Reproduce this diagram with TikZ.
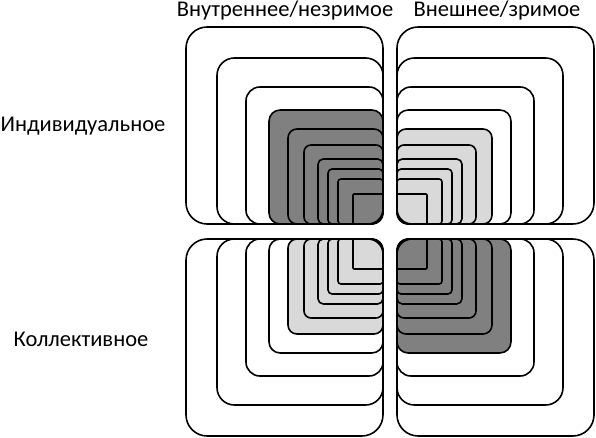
\documentclass[tikz,border=0pt]{standalone}
\usepackage{fontspec}
\setmainfont{Carlito}

\definecolor{dkg}{gray}{0.5}
\definecolor{ltg}{gray}{0.85}

\tikzset{
  sq/.style={draw, line width=1.6pt},
  lbl/.style={font=\fontsize{22.5}{27}\selectfont, inner sep=0pt, anchor=base},
  % square with its inner corner at the origin, opening to the upper left
  pics/qbox/.style n args={2}{code={
    \pgfmathsetmacro\farr{max(0.5,0.12*#1-2.5)}
    \pgfmathsetmacro\innr{15-4*(#1-30)/167}
    \draw[sq, fill=#2] (0,\innr) -- (0,#1-\farr)
      arc[start angle=0, end angle=90, radius=\farr] -- (-#1+\farr,#1)
      arc[start angle=90, end angle=180, radius=\farr] -- (-#1,\farr)
      arc[start angle=180, end angle=270, radius=\farr] -- (-\innr,0)
      arc[start angle=270, end angle=360, radius=\innr] -- cycle;
  }}
}

\begin{document}
\begin{tikzpicture}[x=1pt, y=1pt]
  \useasboundingbox (0,0) rectangle (596,438);

  % inner corners of the four quadrants
  \coordinate (ctl) at (383,214);
  \coordinate (ctr) at (397,214);
  \coordinate (cbl) at (383,199);
  \coordinate (cbr) at (397,199);

  \foreach \s/\fa/\fb in {197/white/white, 166/white/white,
      137/white/white, 114/dkg/white, 95/dkg/ltg, 79/dkg/ltg, 65/dkg/ltg,
      55/dkg/ltg, 45/dkg/ltg, 30/dkg/ltg} {
    \pic              at (ctl) {qbox={\s}{\fa}};
    \pic[xscale=-1]   at (ctr) {qbox={\s}{\fb}};
    \pic[yscale=-1]   at (cbl) {qbox={\s}{\fb}};
    \pic[scale=-1]    at (cbr) {qbox={\s}{\fa}};
  }

  \node[lbl] (inner) at (285,421) {Внутреннее/незримое};
  \node[lbl] (outer) at (497,421) {Внешнее/зримое};
  \node[lbl] (indiv) at (83,306)  {Индивидуальное};
  \node[lbl] (coll)  at (81,91)   {Коллективное};
\end{tikzpicture}
\end{document}
